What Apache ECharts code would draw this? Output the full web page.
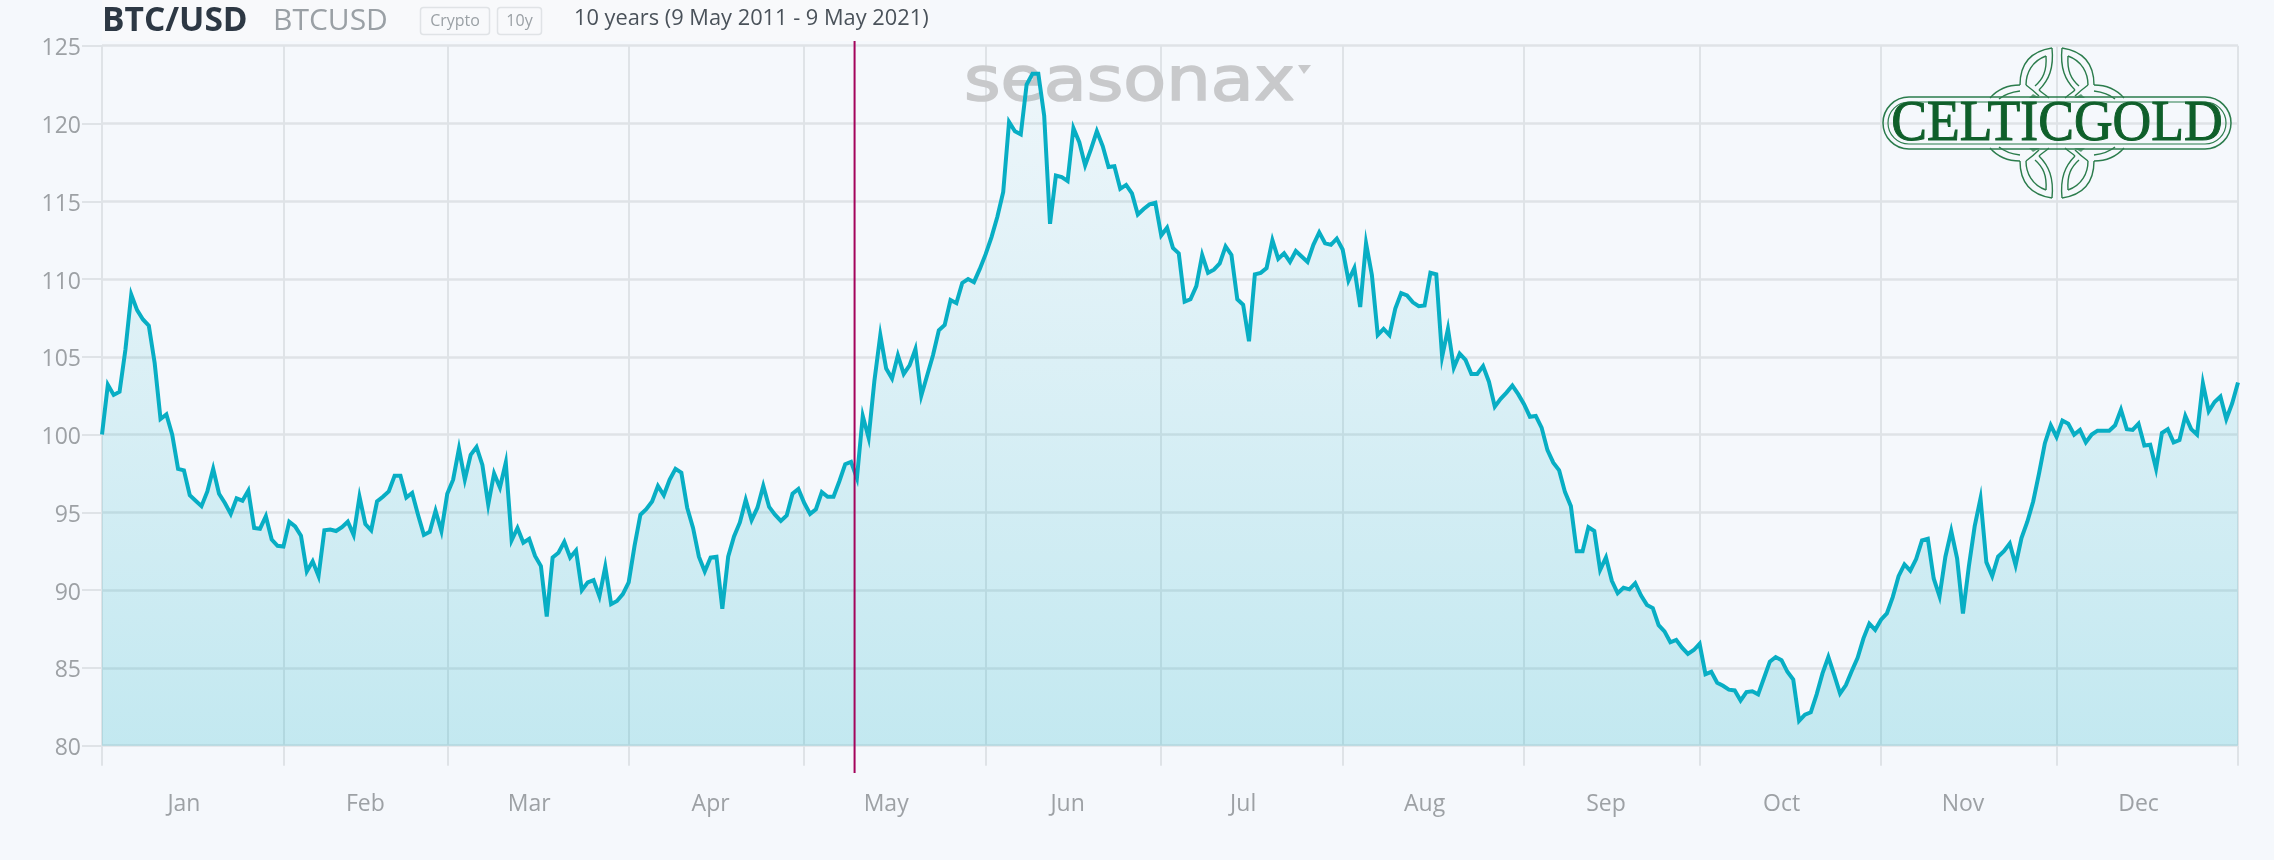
<!DOCTYPE html>
<html>
<head>
<meta charset="utf-8">
<script src="https://cdn.jsdelivr.net/npm/echarts@6/dist/echarts.min.js"></script>
<style>html,body{margin:0;padding:0;background:#f5f8fc}#c{width:2274px;height:860px}</style>
</head>
<body>
<div id="c"></div>
<script>
const monthNames = ['Jan','Feb','Mar','Apr','May','Jun','Jul','Aug','Sep','Oct','Nov','Dec'];
const monthStarts = [0,31,59,90,120,151,181,212,243,273,304,334,365];
const monthLabelDays = [14,45,73,104,134,165,195,226,257,287,318,348];
const todayMarker = 128.6;
const valuesJan = [100,103.2,102.55,102.75,105.45,109,108,107.4,107,104.6,101,101.3,100,97.8,97.7,96.1,95.75,95.4,96.35,97.8,96.2,95.6,94.9,95.9,95.75,96.4,94,93.95,94.75,93.25,92.85];
const valuesFeb = [92.8,94.4,94.1,93.5,91.2,91.85,90.9,93.85,93.9,93.8,94.05,94.4,93.55,96,94.25,93.85,95.7,96,96.35,97.35,97.35,95.95,96.25,94.85,93.55,93.75,95.1,93.8];
const valuesMar = [96.2,97.1,99.1,97.1,98.7,99.2,98.05,95.5,97.5,96.6,98.2,93.2,94,93.05,93.3,92.2,91.55,88.3,92.1,92.4,93.1,92.1,92.55,90,90.5,90.65,89.6,91.5,89.1,89.3,89.75];
const valuesApr = [90.5,92.85,94.85,95.2,95.7,96.7,96.1,97.1,97.8,97.55,95.3,94,92.15,91.2,92.1,92.15,88.8,92.15,93.45,94.35,95.8,94.5,95.3,96.7,95.35,94.85,94.45,94.8,96.2,96.5];
const valuesMay = [95.6,94.9,95.2,96.3,96,96,97,98.1,98.25,97.2,101.2,99.8,103.5,106.4,104.25,103.6,105.1,103.9,104.45,105.5,102.5,103.8,105.1,106.7,107.05,108.65,108.45,109.75,110,109.8,110.65];
const valuesJun = [111.6,112.7,114,115.6,120.1,119.5,119.3,122.5,123.2,123.2,120.5,113.55,116.65,116.55,116.3,119.7,118.8,117.3,118.35,119.5,118.55,117.2,117.25,115.8,116.05,115.5,114.15,114.5,114.8,114.9];
const valuesJul = [112.8,113.3,112,111.65,108.55,108.7,109.55,111.55,110.4,110.6,111,112.1,111.55,108.7,108.35,106,110.3,110.4,110.7,112.5,111.3,111.65,111.1,111.8,111.45,111.1,112.2,113,112.3,112.2,112.6];
const valuesAug = [111.9,109.9,110.7,108.2,112.3,110.25,106.4,106.8,106.4,108.1,109.1,108.95,108.5,108.25,108.3,110.4,110.3,105,106.8,104.3,105.2,104.8,103.9,103.9,104.4,103.4,101.8,102.3,102.7,103.15,102.6];
const valuesSep = [101.95,101.15,101.2,100.45,99,98.2,97.7,96.3,95.4,92.5,92.5,94.05,93.8,91.3,92.1,90.6,89.8,90.15,90.05,90.45,89.65,89.05,88.85,87.75,87.35,86.65,86.8,86.3,85.9,86.15];
const valuesOct = [86.55,84.6,84.75,84.05,83.85,83.6,83.55,82.9,83.45,83.5,83.3,84.35,85.4,85.7,85.5,84.75,84.25,81.6,82,82.15,83.3,84.65,85.7,84.55,83.35,83.9,84.8,85.65,86.9,87.85,87.45];
const valuesNov = [88.1,88.5,89.55,90.9,91.65,91.25,92,93.2,93.3,90.75,89.6,92.15,93.8,92.05,88.5,91.5,94.1,95.9,91.8,90.9,92.15,92.5,93,91.6,93.35,94.4,95.7,97.5,99.45,100.6];
const valuesDec = [99.85,100.9,100.7,100,100.3,99.5,100,100.25,100.25,100.25,100.6,101.6,100.35,100.3,100.7,99.3,99.35,97.8,100.1,100.35,99.5,99.65,101.2,100.35,100,103.3,101.5,102.1,102.45,101,102,103.35];
const seriesValues = [].concat(valuesJan,valuesFeb,valuesMar,valuesApr,valuesMay,valuesJun,valuesJul,valuesAug,valuesSep,valuesOct,valuesNov,valuesDec);

const FONT = '"Open Sans"';
const GREY = '#9da1a5';
const GRID = '#dfe3e7';
const LOGO = '#2b7c4c';

function quadrant(sx, sy) {
  const curves = [
    [-5,-75,-25,-72,-37,-60,-37,-38],
    [-5,-75,-3,-55,-8,-43,-18,-33],
    [-11,-67,-25,-62,-31,-50,-31,-38],
    [-11,-67,-10,-52,-14,-44,-22,-37],
    [-67,-25,-60,-33,-50,-38,-37,-38],
    [-58,-24,-52,-29,-45,-31,-37,-32],
    [-18,-33,-15,-30,-11,-28,-8,-25],
    [-31,-38,-27,-35,-22,-31,-18,-27]
  ];
  const kids = curves.map(c => ({
    type:'bezierCurve', silent:true,
    shape:{x1:c[0],y1:c[1],cpx1:c[2],cpy1:c[3],cpx2:c[4],cpy2:c[5],x2:c[6],y2:c[7]},
    style:{stroke:LOGO, fill:null, lineWidth:1.4}
  }));
  kids.push({type:'polygon', silent:true, shape:{points:[[-28,-25],[-24,-29],[-17,-25]]}, style:{fill:LOGO, opacity:0.7}});
  return {type:'group', x:2057, y:123, scaleX:sx, scaleY:sy, silent:true, z:6, children:kids};
}

const chart = echarts.init(document.getElementById('c'), null, {renderer:'canvas'});
chart.setOption({
  animation:false,
  backgroundColor:'#f5f8fc',
  grid:[
    {left:102, top:45.7, width:2136, height:700},
    {left:102, top:41, width:2136, height:732}
  ],
  xAxis:[
    {type:'value', gridIndex:0, min:0, max:365,
     axisLine:{show:false},
     axisTick:{show:true, length:20, customValues:monthStarts, lineStyle:{color:GRID, width:2}},
     splitLine:{show:true, lineStyle:{color:GRID, width:2}},
     axisLabel:{show:true, customValues:monthLabelDays, margin:47, color:GREY, fontFamily:FONT, fontSize:23, hideOverlap:false, showMinLabel:true, showMaxLabel:true,
       formatter:v => monthNames[monthLabelDays.indexOf(v)] || ''}},
    {type:'value', gridIndex:1, min:0, max:365, show:false}
  ],
  yAxis:[
    {type:'value', gridIndex:0, min:80, max:125, interval:5,
     axisLine:{show:false},
     axisTick:{show:true, length:20, lineStyle:{color:GRID, width:2}},
     splitLine:{show:true, lineStyle:{color:GRID, width:2.5}},
     axisLabel:{margin:21, color:GREY, fontFamily:FONT, fontSize:23, verticalAlign:'top', lineHeight:6}},
    {type:'value', gridIndex:1, min:0, max:1, show:false}
  ],
  graphic:[
    {type:'rect', silent:true, z:1, shape:{x:102,y:0,width:828,height:41}, style:{fill:'#f8f9fb'}},
    {type:'text', silent:true, z:5, x:102, y:21, style:{text:'BTC/USD', font:'bold 33.5px "Open Sans"', fill:'#2d3844', verticalAlign:'middle'}},
    {type:'text', silent:true, z:5, x:273, y:21, style:{text:'BTCUSD', font:'30px "Open Sans"', fill:'#9aa0a5', verticalAlign:'middle'}},
    {type:'rect', silent:true, z:5, shape:{x:420.5,y:7.5,width:69,height:27,r:3}, style:{fill:'none',stroke:'#e0e3e6',lineWidth:1.5}},
    {type:'text', silent:true, z:5, x:455, y:21, style:{text:'Crypto', font:'16px "Open Sans"', fill:'#9aa0a5', align:'center', verticalAlign:'middle'}},
    {type:'rect', silent:true, z:5, shape:{x:497.5,y:7.5,width:44,height:27,r:3}, style:{fill:'none',stroke:'#e0e3e6',lineWidth:1.5}},
    {type:'text', silent:true, z:5, x:519.5, y:21, style:{text:'10y', font:'16px "Open Sans"', fill:'#9aa0a5', align:'center', verticalAlign:'middle'}},
    {type:'text', silent:true, z:5, x:574, y:19, style:{text:'10 years (9 May 2011 - 9 May 2021)', font:'21.8px "Open Sans"', fill:'#4a525a', verticalAlign:'middle'}},
    {type:'text', silent:true, z:1, x:964, y:84, scaleX:1.17, style:{text:'seasonax', font:'60px "DejaVu Sans"', fill:'#c8c9cb', stroke:'#c8c9cb', lineWidth:1.5, verticalAlign:'middle'}},
    {type:'polygon', silent:true, z:1, shape:{points:[[1298,65],[1311,65],[1304,74]]}, style:{fill:'#c8c9cb'}},
    {type:'rect', silent:true, z:6, shape:{x:1883,y:97,width:348,height:52,r:26}, style:{fill:'none',stroke:LOGO,lineWidth:1.5}},
    {type:'rect', silent:true, z:6, shape:{x:1888,y:102,width:338,height:42,r:21}, style:{fill:'none',stroke:LOGO,lineWidth:1.2}},
    {type:'text', silent:true, z:6, x:2057, y:125, scaleX:0.94, style:{text:'CELTICGOLD', font:'57px "Liberation Serif"', fill:'#0f5f2a', stroke:'#0f5f2a', lineWidth:1, verticalAlign:'middle', align:'center'}},
    quadrant(1,1), quadrant(-1,1), quadrant(1,-1), quadrant(-1,-1)
  ],
  series:[
    {type:'line', xAxisIndex:0, yAxisIndex:0, z:3,
     data:seriesValues.map((v,i)=>[i,v]),
     showSymbol:false, smooth:false, sampling:false,
     lineStyle:{color:'#08aec4', width:4, join:'miter', miterLimit:8},
     areaStyle:{origin:'start', opacity:1, color:{type:'linear',x:0,y:0,x2:0,y2:1,colorStops:[
       {offset:0,color:'rgba(8,174,196,0.03)'},{offset:1,color:'rgba(8,174,196,0.21)'}]}}},
    {type:'line', xAxisIndex:1, yAxisIndex:1, z:4,
     data:[[todayMarker,0],[todayMarker,1]],
     showSymbol:false, lineStyle:{color:'#a3045c', width:2}}
  ]
});
</script>
</body>
</html>
